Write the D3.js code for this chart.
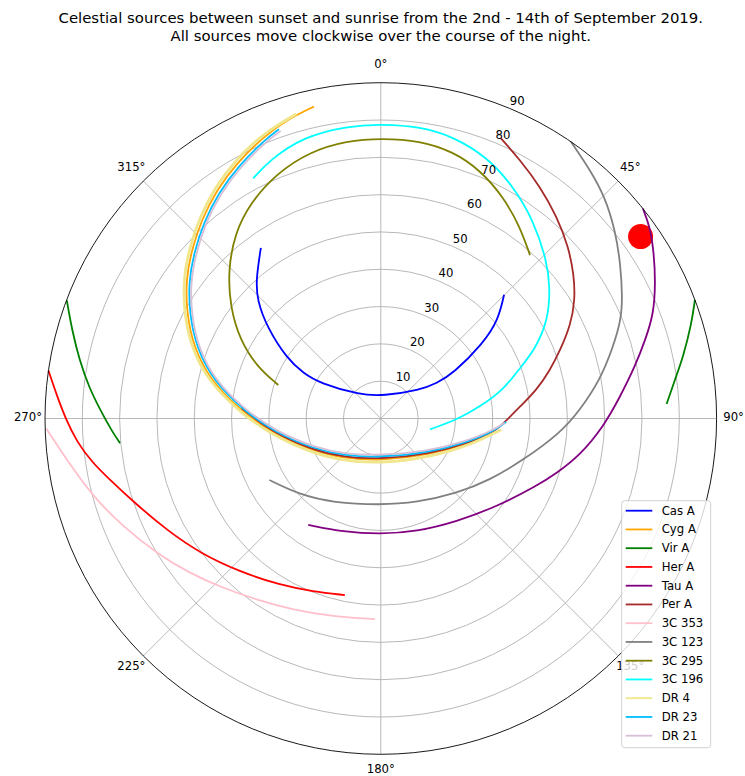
<!DOCTYPE html>
<html><head><meta charset="utf-8">
<script src="https://cdn.jsdelivr.net/npm/d3@7"></script>
<style>body{margin:0;background:#fff}svg{display:block;font-family:"DejaVu Sans",sans-serif}</style>
</head><body><svg id="c" width="745" height="776"></svg>
<script>
// ---- data: [azimuth deg (clockwise from N), zenith distance deg]
const titleLines = ["Celestial sources between sunset and sunrise from the 2nd - 14th of September 2019.",
                    "All sources move clockwise over the course of the night."];
const sourceNames = ["Cas A","Cyg A","Vir A","Her A","Tau A","Per A","3C 353","3C 123","3C 295","3C 196","DR 4","DR 23","DR 21"];
const sourceColors = ["#0000ff","#ffa500","#008000","#ff0000","#800080","#a52a2a","#ffc0cb","#808080","#808000","#00ffff","#f0e68c","#00bfff","#d8bfd8"];
const thetaTicks = [0,45,90,135,180,225,270,315];
const radialTicks = [10,20,30,40,50,60,70,80,90];

const casA = [[324.9,55.9],[318.0,50.0],[313.8,45.9],[308.8,39.2],[302.6,29.9],[300.3,24.0],[300.1,18.8],[318.5,8.4],[6.3,6.1],[54.0,13.0],[57.8,17.7],[58.1,22.9],[53.7,34.1],[50.0,41.1],[44.9,46.8]];
const cygA = [[347.9,85.5],[342.5,83.9],[337.4,81.8],[330.6,78.6],[324.3,75.4],[317.9,71.7],[311.7,67.9],[305.4,64.1],[298.5,59.2],[291.0,53.8],[282.7,46.9],[273.5,37.8],[263.2,29.9],[246.0,20.8],[223.3,14.7],[181.1,11.3],[126.6,16.4],[105.5,24.8],[96.5,31.3]];
const virAEvening = [[290.6,89.9],[286.0,86.1],[281.0,82.3],[276.0,78.6],[271.3,74.9],[267.1,72.0],[264.6,70.2]];
const virAMorning = [[69.3,90.0],[73.0,87.1],[78.5,82.7],[82.5,79.5],[87.1,76.7]];
const herA = [[278.2,90.0],[274.0,87.0],[270.0,84.5],[265.6,81.7],[261.4,78.3],[257.2,74.4],[251.0,69.7],[242.5,64.7],[233.3,60.4],[222.6,55.8],[211.2,52.2],[201.3,49.8],[191.5,48.3]];
const tauA = [[51.3,90.0],[54.5,88.6],[58.8,85.6],[63.7,82.1],[68.9,78.4],[73.1,74.3],[78.5,69.5],[84.8,64.4],[92.1,59.7],[100.4,54.3],[107.2,49.4],[113.4,45.5],[127.3,39.0],[143.7,34.3],[162.4,31.8],[180.4,31.0],[198.3,32.0],[214.3,34.5]];
const perA = [[23.2,81.7],[28.3,78.7],[34.5,75.4],[41.1,71.8],[47.5,68.2],[53.4,64.5],[58.6,61.0],[63.8,56.7],[69.1,51.5],[74.0,47.2],[79.6,42.5],[85.2,37.4],[90.8,33.7],[96.5,30.9],[105.5,24.4],[126.6,16.0],[181.1,10.9],[223.3,14.3],[246.0,20.4],[263.2,29.5],[274.2,37.4]];
const c3C353 = [[268.3,89.7],[262.5,84.9],[254.8,79.9],[247.2,74.9],[239.0,70.1],[231.0,65.9],[223.7,62.4],[214.4,58.9],[204.6,56.4],[193.5,54.6],[181.7,53.8]];
const c3C123 = [[34.5,90.0],[40.1,87.1],[45.3,84.5],[51.2,80.6],[57.1,76.5],[63.3,72.5],[67.7,69.6],[72.8,65.2],[80.0,59.7],[87.6,53.4],[94.7,48.2],[106.2,39.8],[119.4,33.6],[134.6,28.6],[156.9,24.5],[180.5,23.2],[209.4,25.9],[226.6,29.8],[241.1,34.1]];
const c3C295 = [[42.4,59.3],[36.0,63.5],[28.9,67.9],[21.8,71.7],[15.2,74.1],[8.0,75.2],[0.2,75.1],[353.0,75.0],[345.1,74.0],[337.0,71.4],[328.7,67.5],[321.8,63.2],[314.2,57.1],[306.6,50.3],[299.1,43.2],[292.7,36.0],[288.1,28.9]];
const c3C196 = [[332.0,72.9],[336.8,75.4],[344.6,78.3],[353.4,78.9],[0.2,78.9],[7.7,78.9],[14.4,78.0],[22.0,75.7],[29.8,71.6],[37.5,67.1],[46.3,61.5],[52.1,57.5],[59.5,52.1],[66.0,45.2],[70.6,39.1],[76.9,33.7],[83.2,26.8],[91.1,20.3],[102.4,13.5]];
const dr4 = [[344.5,84.7],[337.4,82.6],[330.6,79.4],[324.3,76.2],[317.9,72.5],[311.7,68.7],[305.4,64.9],[298.5,60.0],[291.0,54.6],[282.7,47.7],[273.5,38.6],[263.2,30.7],[246.0,21.6],[223.3,15.5],[181.1,12.1],[126.6,17.2],[105.5,25.6],[95.3,32.4]];
const dr23 = [[340.6,82.2],[337.4,80.9],[330.6,77.7],[324.3,74.5],[317.9,70.8],[311.7,67.0],[305.4,63.2],[298.5,58.3],[291.0,52.9],[282.7,46.0],[273.5,36.9],[263.2,29.0],[246.0,19.9],[223.3,13.8],[181.1,10.4],[126.6,15.5],[105.5,23.9],[96.5,30.4],[91.6,33.6]];
const dr21 = [[340.8,81.6],[337.4,80.3],[330.6,77.1],[324.3,73.9],[317.9,70.2],[311.7,66.4],[305.4,62.6],[298.5,57.7],[291.0,52.3],[282.7,45.4],[273.5,36.3],[263.2,28.4],[246.0,19.3],[223.3,13.2],[181.1,9.8],[126.6,14.9],[105.5,23.3],[96.5,29.8],[92.0,33.2]];
const redMarker = [[55.0,85.0]];

const sourceSegments = [[casA],[cygA],[virAEvening,virAMorning],[herA],[tauA],[perA],[c3C353],[c3C123],[c3C295],[c3C196],[dr4],[dr23],[dr21]];

// ---- drawing
const svg = d3.select("#c");
const W = 745, H = 776;
svg.append("rect").attr("width",W).attr("height",H).attr("fill","#fff");
const cx = 380.8, cy = 418.5, R = 335.8;
const rScale = d3.scaleLinear().domain([0,90]).range([0,R]);
const aScale = d3.scaleLinear().domain([0,360]).range([0,2*Math.PI]);
const g = svg.append("g").attr("transform",`translate(${cx},${cy})`);

// grid circles
g.selectAll("circle.grid").data(radialTicks.filter(d=>d<90)).join("circle")
  .attr("r",d=>rScale(d)).attr("fill","none").attr("stroke","#b0b0b0").attr("stroke-width",0.9);
// spokes
g.selectAll("line.spoke").data(thetaTicks).join("line")
  .attr("x1",0).attr("y1",0)
  .attr("x2",d=>rScale(90)*Math.sin(aScale(d))).attr("y2",d=>-rScale(90)*Math.cos(aScale(d)))
  .attr("stroke","#b0b0b0").attr("stroke-width",0.9);

// red marker (drawn below tracks)
g.selectAll("circle.marker").data(redMarker).join("circle")
  .attr("cx",d=>rScale(d[1])*Math.sin(aScale(d[0])))
  .attr("cy",d=>-rScale(d[1])*Math.cos(aScale(d[0])))
  .attr("r",12.5).attr("fill","#ff0000");

const line = d3.lineRadial().angle(d=>aScale(d[0])).radius(d=>rScale(d[1])).curve(d3.curveBasis);
sourceSegments.forEach((segs,i)=>{
  segs.forEach(seg=>{
    g.append("path").attr("d",line(seg)).attr("fill","none")
      .attr("stroke",sourceColors[i]).attr("stroke-width", sourceNames[i]==="DR 4"?2.8:1.8)
      .attr("stroke-linecap","butt").attr("stroke-linejoin","round");
  });
});

// outer spine
g.append("circle").attr("r",rScale(90)).attr("fill","none").attr("stroke","#000").attr("stroke-width",0.9);

// theta labels
const thetaPad = 17;
g.selectAll("text.theta").data(thetaTicks).join("text")
  .attr("x",d=>(R+thetaPad)*Math.sin(aScale(d))).attr("y",d=>-(R+thetaPad)*Math.cos(aScale(d))-2)
  .attr("text-anchor","middle").attr("dominant-baseline","central")
  .attr("font-size","11.7px").attr("fill","#000").text(d=>d+"°");

// radial labels
const rlab = 22.5*Math.PI/180;
g.selectAll("text.rad").data(radialTicks).join("text")
  .attr("x",d=>rScale(d)*Math.sin(rlab)+8).attr("y",d=>-rScale(d)*Math.cos(rlab)-7.3)
  .attr("text-anchor","middle").attr("dominant-baseline","central")
  .attr("font-size","11.7px").attr("fill","#000").text(d=>d);

// title
svg.selectAll("text.title").data(titleLines).join("text")
  .attr("x",cx).attr("y",(d,i)=>22.5+i*18.8).attr("text-anchor","middle")
  .attr("font-size","14.9px").attr("fill","#000").text(d=>d);

// legend
const lg = svg.append("g");
const lx = 621.7, ly = 500.7, lw = 89, lh = 247;
lg.append("rect").attr("x",lx).attr("y",ly).attr("width",lw).attr("height",lh).attr("rx",3)
  .attr("fill","#fff").attr("fill-opacity",0.8).attr("stroke","#cccccc").attr("stroke-width",0.9);
const rowY = i => 510.7 + i*18.75;
sourceNames.forEach((n,i)=>{
  lg.append("line").attr("x1",625.7).attr("x2",652.3).attr("y1",rowY(i)).attr("y2",rowY(i))
    .attr("stroke",sourceColors[i]).attr("stroke-width",1.8);
  lg.append("text").attr("x",661.7).attr("y",rowY(i)).attr("dominant-baseline","central")
    .attr("font-size","11.7px").attr("fill","#000").text(n);
});
</script></body></html>
